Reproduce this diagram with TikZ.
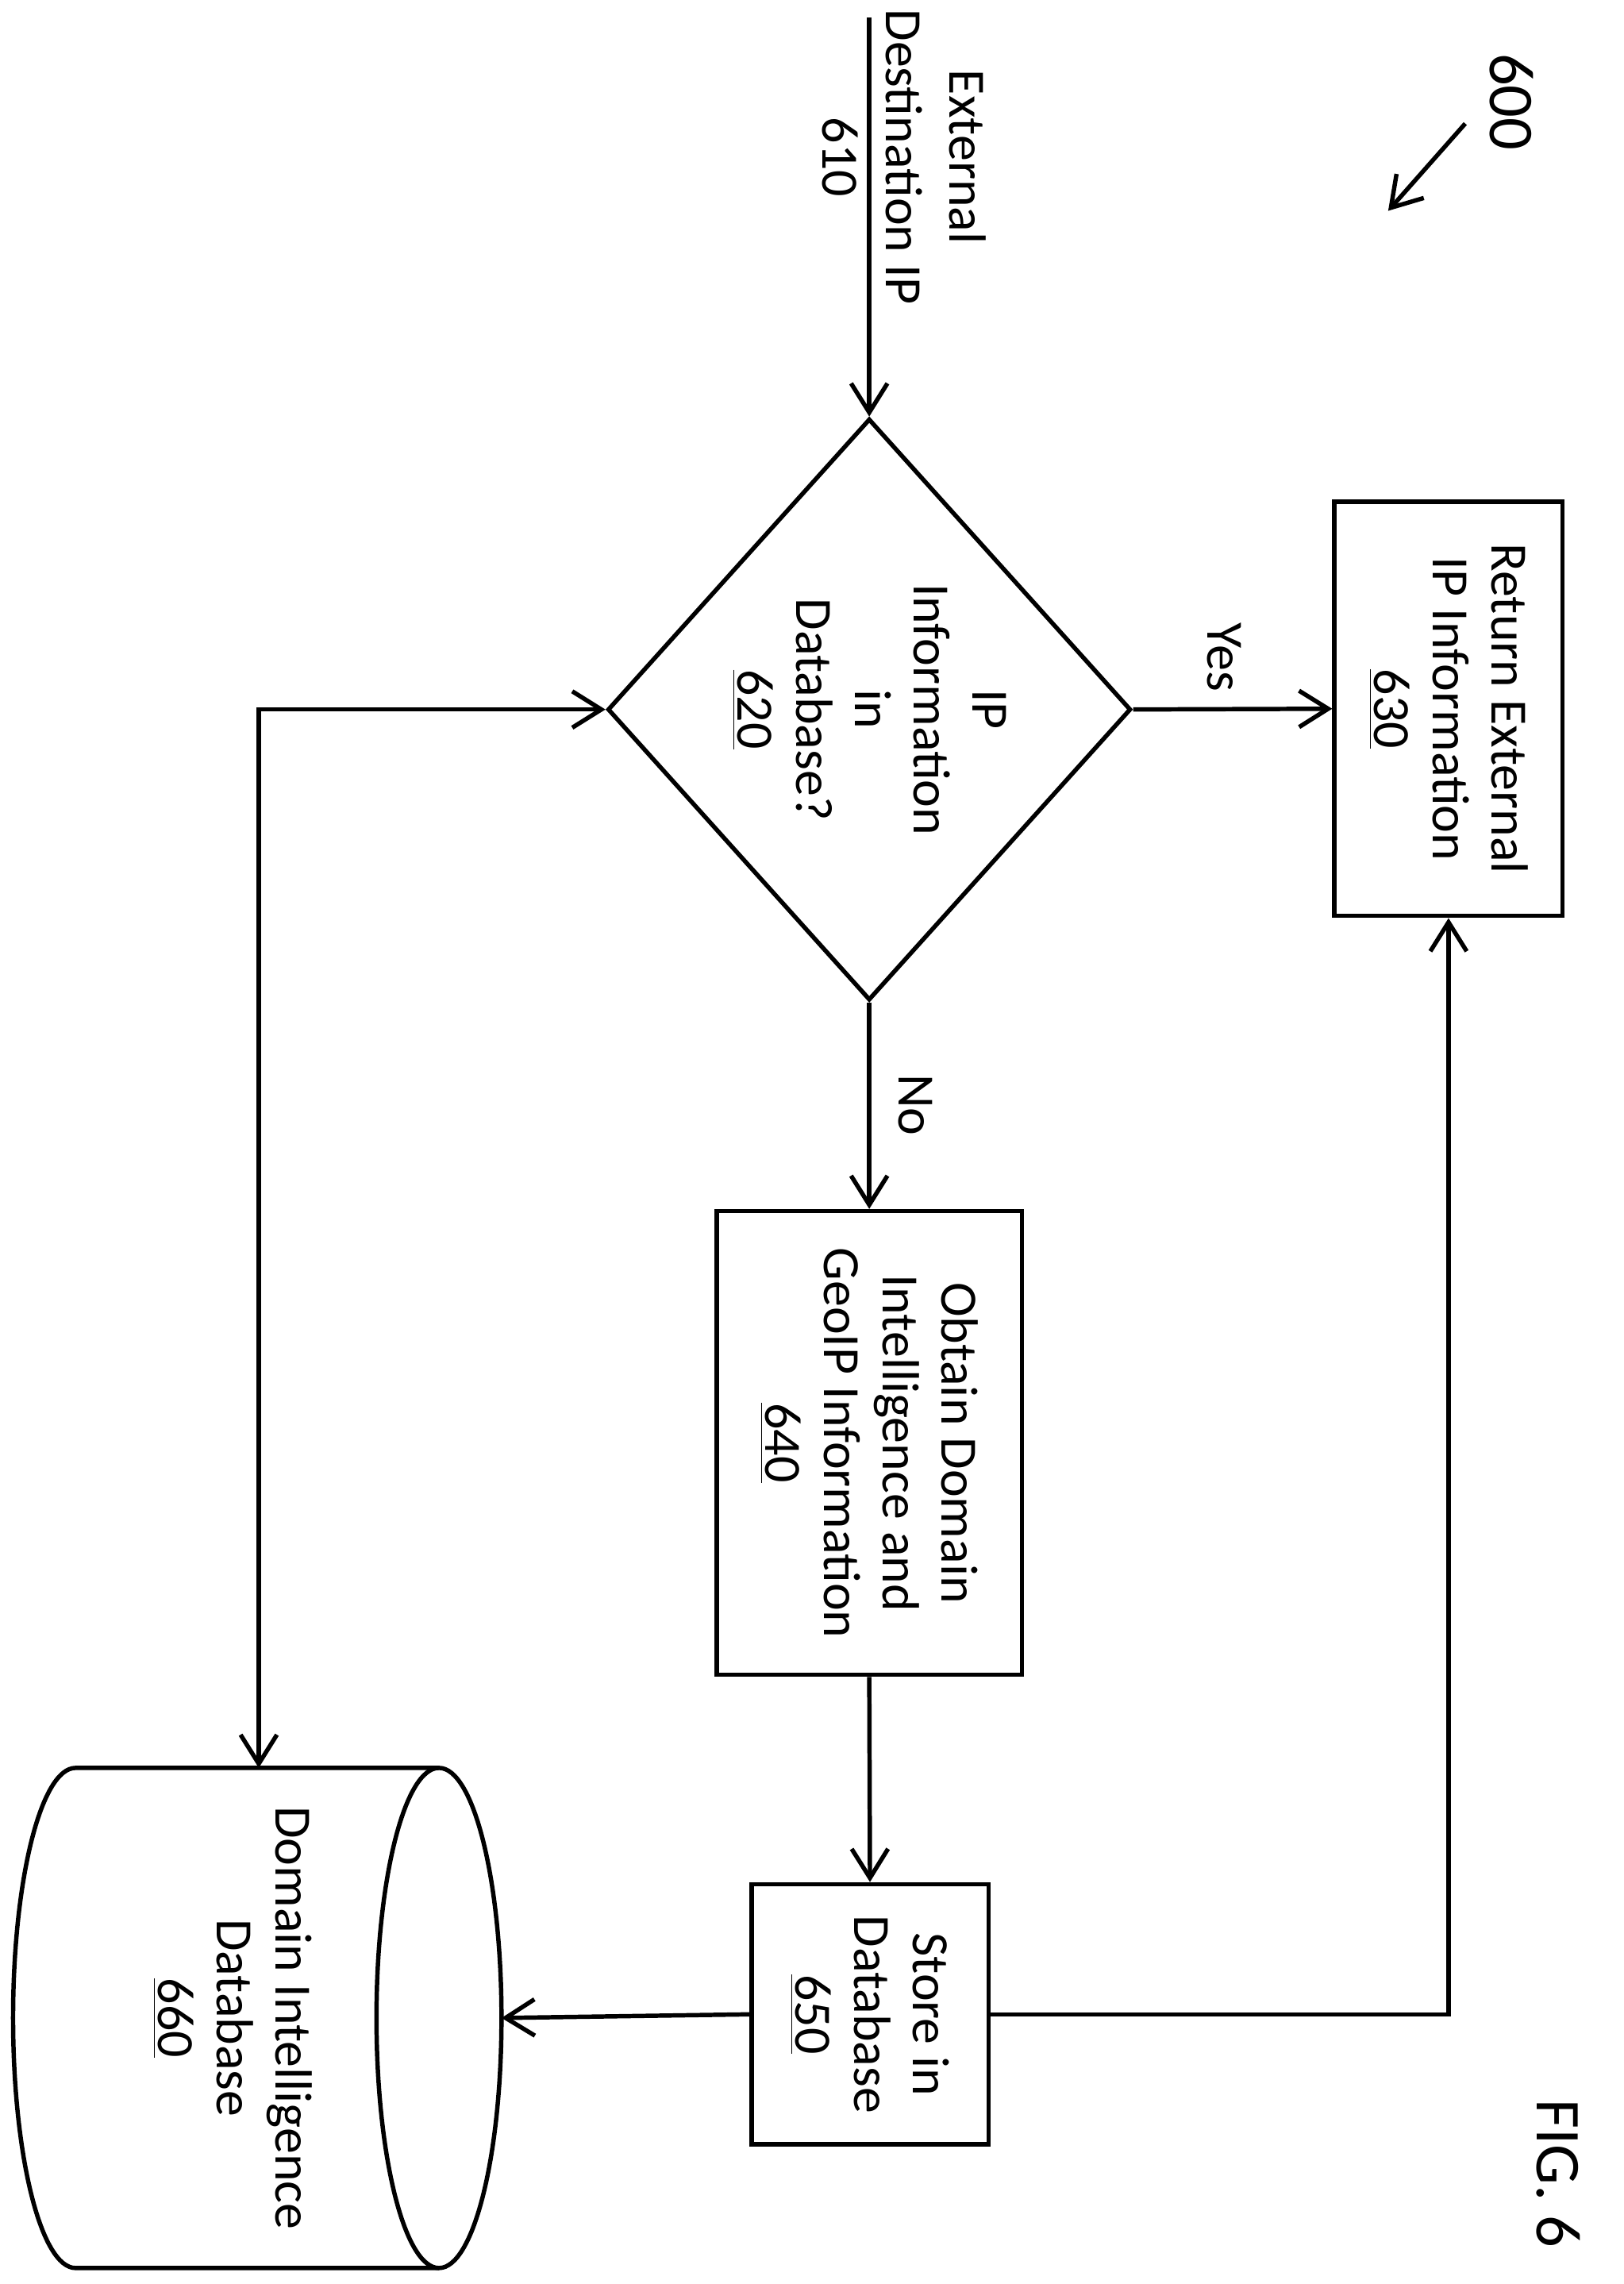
\documentclass[tikz,border=0pt]{standalone}
\usepackage{fontspec}
\setmainfont{Carlito}
\usetikzlibrary{shapes.geometric,arrows.meta}
\begin{document}
\begin{tikzpicture}[x=0.02cm, y=-0.02cm, line width=1.7pt,
  >={Straight Barb[length=4mm,width=5mm]},
  txt/.style = {rotate=-90, align=center, font=\fontsize{20.5}{23}\selectfont, inner sep=0pt},
  box/.style = {draw, rectangle, inner sep=0pt}]
  \useasboundingbox (0,0) rectangle (1117,1571);
  %%%%%%%%%%%%%%%%%%% input and decision
  \coordinate (in) at (598,12);
  \node[txt, font=\fontsize{20.5}{25}\selectfont] (lin) at (622,108) {External\\Destination IP\\610};
  \node[draw, diamond, minimum width=360*0.02cm, minimum height=400*0.02cm, inner sep=0pt, aspect=0.9] (d620) at (598,488) {};
  \node[txt] at (d620) {IP\\Information\\in\\Database?\\\underline{620}};
  \draw [->] (in) -- (d620.north);
  %%%%%%%%%%%%%%%%%%% yes branch
  \node[box, minimum width=157*0.02cm, minimum height=285*0.02cm] (b630) at (996.5,487.5) {};
  \node[txt] at (b630) {Return External\\IP Information\\\underline{630}};
  \draw [->] (d620.east) -- (b630.west);
  \node[txt] (lyes) at (842,452) {Yes};
  %%%%%%%%%%%%%%%%%%% no branch
  \node[box, minimum width=210*0.02cm, minimum height=319*0.02cm] (b640) at (598,992.5) {};
  \node[txt] at (b640) {Obtain Domain\\Intelligence and\\GeoIP Information\\\underline{640}};
  \draw [->] (d620.south) -- (b640.north);
  \node[txt] (lno) at (630,760) {No};
  \node[box, minimum width=163*0.02cm, minimum height=179*0.02cm] (b650) at (598.5,1385.5) {};
  \node[txt] at (b650) {Store in\\Database\\\underline{650}};
  \draw [->] (b640.south) -- (b650.north);
  \draw [->] (b650.east) -| (b630.south);
  %%%%%%%%%%%%%%%%%%% database
  \draw (302,1216) -- (52,1216) arc[start angle=270, end angle=90, x radius=43, y radius=172] -- (302,1560);
  \draw (302,1388) ellipse[x radius=43, y radius=172];
  \coordinate (db) at (345,1388);
  \coordinate (dbtop) at (178,1216);
  \node[txt] (d660) at (160,1388) {Domain Intelligence\\Database\\\underline{660}};
  \draw [->] (b650.west) -- (db);
  \draw [<->] (dbtop) |- (d620.west);
  %%%%%%%%%%%%%%%%%%% labels
  \node[txt, font=\fontsize{25}{28}\selectfont] (l600) at (1040,70) {600};
  \coordinate (a600) at (1008,85);
  \coordinate (b600) at (955,145);
  \draw [->] (a600) -- (b600);
  \node[txt, font=\fontsize{25}{28}\selectfont] (fig) at (1072,1495) {FIG. 6};
\end{tikzpicture}
\end{document}
